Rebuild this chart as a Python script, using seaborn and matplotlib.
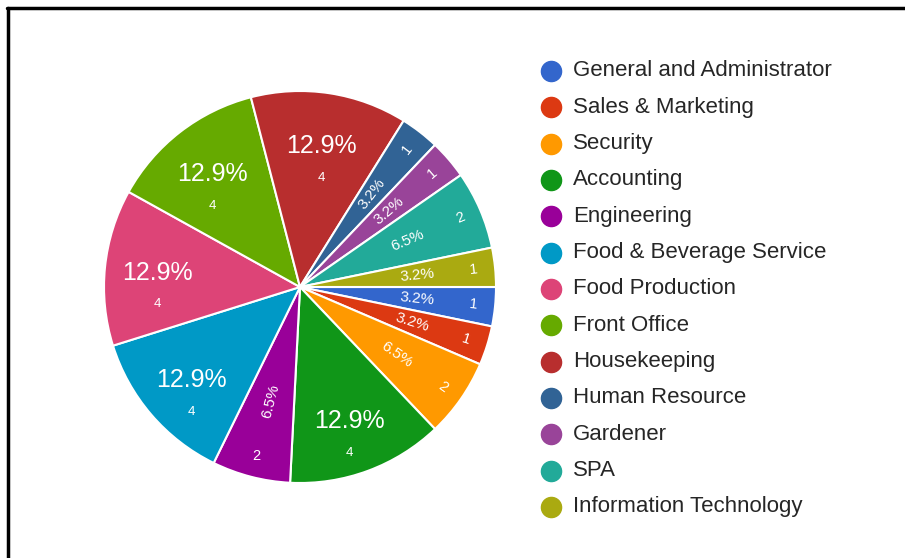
import matplotlib
matplotlib.use("Agg")
import matplotlib.pyplot as plt
import seaborn as sns
import numpy as np
from matplotlib.lines import Line2D

# Staff count per department
departments = [
    "General and Administrator", "Sales & Marketing", "Security", "Accounting",
    "Engineering", "Food & Beverage Service", "Food Production", "Front Office",
    "Housekeeping", "Human Resource", "Gardener", "SPA", "Information Technology",
]
counts = [1, 1, 2, 4, 2, 4, 4, 4, 4, 1, 1, 2, 1]
colors = [
    "#3366CC", "#DC3912", "#FF9900", "#109618", "#990099", "#0099C6", "#DD4477",
    "#66AA00", "#B82E2E", "#316395", "#994499", "#22AA99", "#AAAA11",
]

sns.set_theme(style="white")
plt.rcParams["font.family"] = ["Liberation Sans", "DejaVu Sans"]

W, H = 905, 558
fig = plt.figure(figsize=(W / 100, H / 100), dpi=100)
fig.patch.set_facecolor("white")

cx, cy, R = 300, 287, 196
ax = fig.add_axes([(cx - R) / W, (H - cy - R) / H, 2 * R / W, 2 * R / H])
wedges, _ = ax.pie(
    counts, colors=colors, startangle=0, counterclock=False, radius=1,
    wedgeprops=dict(edgecolor="white", linewidth=1.5),
)
for w in wedges:
    w.set_clip_on(False)
ax.set_xlim(-1, 1)
ax.set_ylim(-1, 1)
ax.axis("off")

total = sum(counts)
cum = 0
upright_counts = {"Engineering"}
for name, c in zip(departments, counts):
    mid = -(cum + c / 2) / total * 360
    cum += c
    t = np.deg2rad(mid)
    pct = f"{100 * c / total:.1f}%"
    if c >= 4:
        r = 0.73
        x, y = r * np.cos(t), r * np.sin(t)
        ax.text(x, y, pct, ha="center", va="center", fontsize=18, color="white")
        ax.annotate(str(c), (x, y), xytext=(0, -23), textcoords="offset points",
                    ha="center", va="center", fontsize=9.5, color="white")
    else:
        rot = mid if np.cos(t) >= 0 else mid + 180
        ax.text(0.6 * np.cos(t), 0.6 * np.sin(t), pct, ha="center", va="center",
                rotation=rot, rotation_mode="anchor", fontsize=11, color="white")
        crot = 0 if name in upright_counts else rot
        ax.text(0.89 * np.cos(t), 0.89 * np.sin(t), str(c), ha="center", va="center",
                rotation=crot, rotation_mode="anchor", fontsize=10.5, color="white")

# Legend column on the right
for i, (name, col) in enumerate(zip(departments, colors)):
    ypix = 71 + i * 36.33
    fig.add_artist(Line2D([551 / W], [1 - ypix / H], marker="o", markersize=14.5,
                          color=col, linestyle="none", transform=fig.transFigure))
    fig.text(573 / W, 1 - ypix / H, name, ha="left", va="center",
             fontsize=16, color="#262626")

# Frame lines along the top and left edges
fig.add_artist(Line2D([7 / W, 1], [1 - 8 / H, 1 - 8 / H], color="black",
                      linewidth=2.5, transform=fig.transFigure))
fig.add_artist(Line2D([7.5 / W, 7.5 / W], [0, 1 - 8 / H], color="black",
                      linewidth=2.5, transform=fig.transFigure))

fig.savefig("out.png", dpi=100)
